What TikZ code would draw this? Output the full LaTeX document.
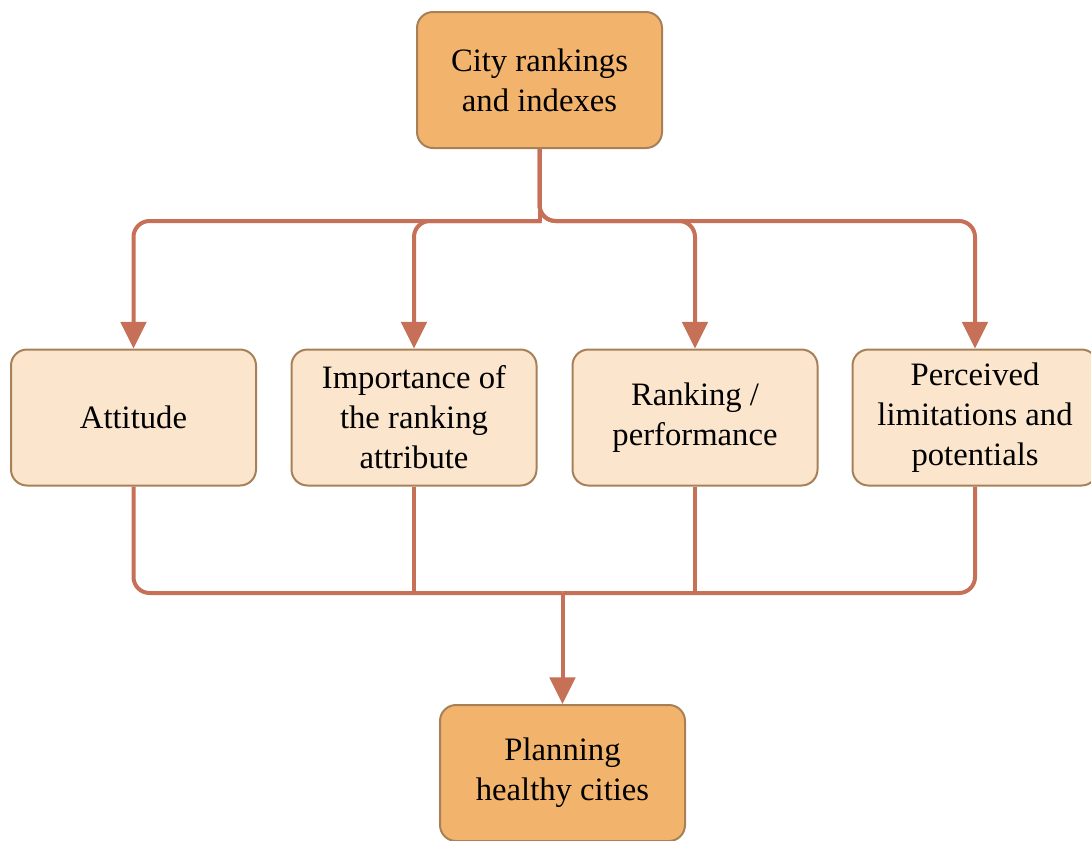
\documentclass[tikz,border=0pt]{standalone}
\usepackage{fontspec}
\setmainfont{Liberation Serif}
\usetikzlibrary{arrows.meta}
\definecolor{darkfill}{RGB}{242,180,108}
\definecolor{lightfill}{RGB}{251,230,205}
\definecolor{boxedge}{RGB}{168,128,88}
\definecolor{wire}{RGB}{199,112,88}
\tikzset{
  box/.style={draw=boxedge, line width=1.5pt, rounded corners=12pt,
    minimum width=183.75pt, minimum height=102pt, align=center,
    font=\fontsize{24.5}{30}\selectfont, inner sep=2pt},
  mainbox/.style={box, fill=darkfill},
  factor/.style={box, fill=lightfill},
  wireline/.style={draw=wire, line width=3pt, rounded corners=12pt},
  plainwire/.style={draw=wire, line width=3pt},
  tip/.style={-{Triangle[length=20pt, width=19pt]}}
}
\begin{document}
\begin{tikzpicture}[x=0.75pt, y=-0.75pt]
\useasboundingbox (0,0) rectangle (1091,840);

\node[mainbox] (top) at (539.5,80) {City rankings\\and indexes};
\node[factor] (f1) at (133.5,417.5) {Attitude};
\node[factor] (f2) at (414,417.5) {Importance of\\the ranking\\attribute};
\node[factor] (f3) at (695,417.5) {Ranking /\\performance};
\node[factor] (f4) at (975,417.5) {Perceived\\limitations and\\potentials};
\node[mainbox] (bot) at (562.5,773) {Planning\\healthy cities};

\coordinate (split) at (539.5,221);
\coordinate (busend) at (541.5,221);
\coordinate (merge) at (562.5,593);

% fan-out from the top box: stem meets the bus squarely on the left,
% right branches bend off the stem
\draw[plainwire] (top.south) -- (split);
\draw[wireline, tip] (busend) -| (f1.north);
\draw[wireline, tip] (busend) -| (f2.north);
\draw[wireline, tip] (top.south) -- (split) -| (f3.north);
\draw[wireline, tip] (top.south) -- (split) -| (f4.north);

% collect into the bottom box
\draw[wireline] (f1.south) |- (merge);
\draw[wireline] (f4.south) |- (merge);
\draw[plainwire] (f2.south) -- (f2.south |- merge);
\draw[plainwire] (f3.south) -- (f3.south |- merge);
\draw[plainwire, tip] (merge) -- (bot.north);
\end{tikzpicture}
\end{document}
